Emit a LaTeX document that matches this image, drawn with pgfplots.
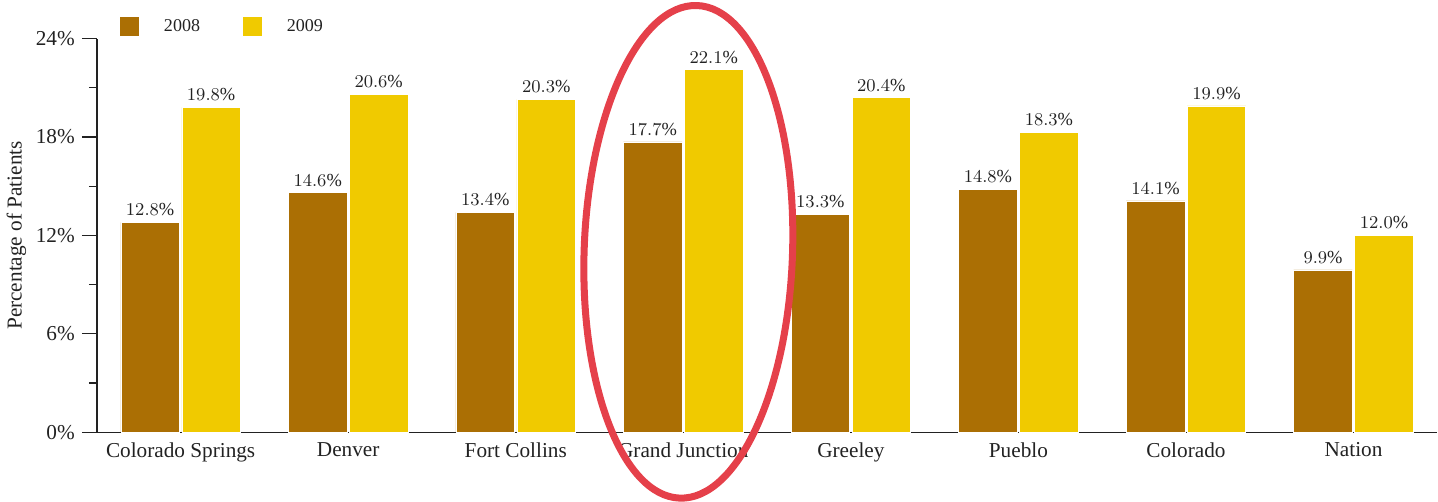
\documentclass[border=0pt]{standalone}
\usepackage{pgfplots}
\pgfplotsset{compat=1.18}
\usepackage{fontspec}
\setmainfont{Liberation Serif}
\definecolor{cbrown}{HTML}{AB6F04}
\definecolor{cyellow}{HTML}{F0CA00}
\definecolor{ctext}{HTML}{222222}
\definecolor{cred}{HTML}{E5404A}
\begin{document}
\begin{tikzpicture}
\begin{axis}[
  scale only axis,
  width=669pt, height=196.5pt,
  xmin=-0.5, xmax=7.5,
  ymin=0, ymax=24,
  axis lines*=left,
  axis line style={ctext, line width=0.7pt},
  xtick={0,...,7},
  xticklabels={Colorado Springs,Denver,Fort Collins,Grand Junction,Greeley,Pueblo,Colorado,Nation},
  x tick style={draw=none},
  xticklabel style={font=\fontsize{10.6}{12}\selectfont, text=ctext, yshift=6pt},
  ytick={0,6,12,18,24},
  minor ytick={3,9,15,21},
  yticklabels={0\%,6\%,12\%,18\%,24\%},
  yticklabel style={font=\fontsize{10.6}{12}\selectfont, text=ctext},
  tick align=outside,
  major tick length=7.5pt,
  minor tick length=4pt,
  y tick style={ctext, line width=0.6pt},
  ylabel={Percentage of Patients},
  ylabel style={font=\fontsize{10.6}{12}\selectfont, text=ctext, at={(axis description cs:-0.06,0.5)}, anchor=center},
  ybar,
  bar width=0.35,
  clip=false,
  nodes near coords={\pgfmathprintnumber[fixed,precision=1,fixed zerofill]{\pgfplotspointmeta}\%},
  nodes near coords style={font=\fontsize{9.2}{10}\selectfont, text=ctext, inner sep=1pt, yshift=2pt},
  legend style={draw=none, fill=none, at={(axis description cs:0,1)}, anchor=west, xshift=11pt, yshift=6pt,
    font=\fontsize{9}{10}\selectfont, text=ctext, inner sep=0pt},
  legend columns=2,
  legend image code/.code={\fill[#1] (0pt,-5pt) rectangle (10pt,5pt);},
  /tikz/every odd column/.append style={column sep=10pt},
  /tikz/every even column/.append style={column sep=19pt},
]
\addplot[fill=cbrown, draw=white, line width=0.3pt, bar shift=-0.182] coordinates {
(0,12.8) (1,14.6) (2,13.4) (3,17.7) (4,13.3) (5,14.8) (6,14.1) (7,9.9)};
\addplot[fill=cyellow, draw=white, line width=0.3pt, bar shift=0.182] coordinates {
(0,19.8) (1,20.6) (2,20.3) (3,22.1) (4,20.4) (5,18.3) (6,19.9) (7,12.0)};
\legend{2008,2009}
\coordinate (gj) at (axis cs:3.03,11.0);
\end{axis}
\draw[cred, line width=3.5pt, rotate around={-2:(gj)}] (gj) ellipse [x radius=52pt, y radius=123pt];
\end{tikzpicture}
\end{document}
